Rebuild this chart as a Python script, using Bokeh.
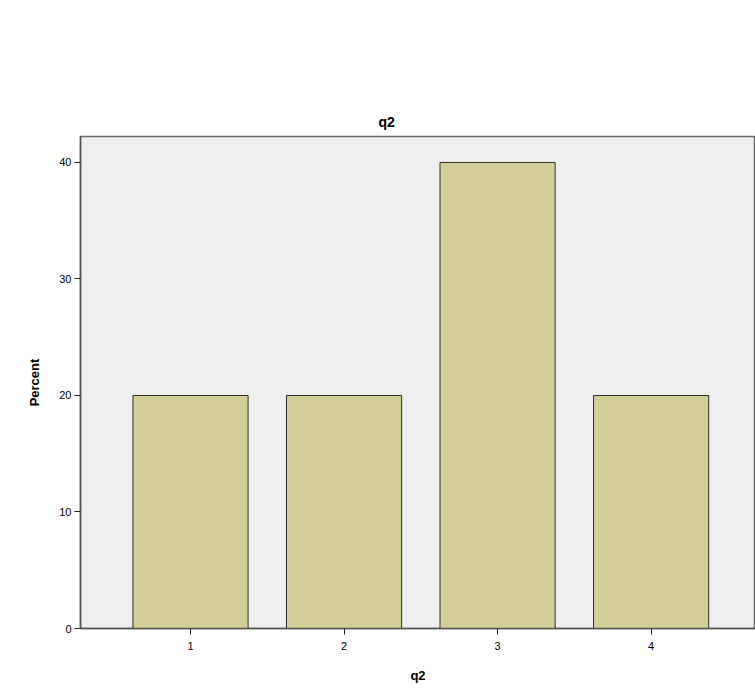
from bokeh.plotting import figure
from bokeh.embed import file_html
from bokeh.resources import INLINE
from bokeh.models import FixedTicker, Range1d, ColumnDataSource

categories = [1, 2, 3, 4]
percent = [20, 20, 40, 20]
y_ticks = [0, 10, 20, 30, 40]

src = ColumnDataSource(data=dict(x=categories, top=percent))

p = figure(width=755, height=696, output_backend="svg", toolbar_location=None,
           x_range=Range1d(0.2834, 4.68), y_range=Range1d(0, 42.23),
           min_border_left=80, min_border_right=0, min_border_top=136, min_border_bottom=68)

p.vbar(x="x", top="top", width=0.75, source=src, fill_color="#d3ce97",
       line_color="#2e2e2e", line_width=1)

p.title.text = "q2"
p.title.align = "left"
p.title.offset = 298
p.title.standoff = 13
p.title.text_font = "Liberation Sans"
p.title.text_font_size = "14px"
p.title.text_font_style = "bold"
p.title.text_color = "#000000"

p.background_fill_color = "#efefef"
p.border_fill_color = "#ffffff"
p.outline_line_color = "#6b6b6b"
p.outline_line_width = 1.5
p.xgrid.visible = False
p.ygrid.visible = False

p.yaxis.ticker = FixedTicker(ticks=y_ticks)
p.xaxis.ticker = FixedTicker(ticks=categories)
for ax in (p.xaxis[0], p.yaxis[0]):
    ax.axis_line_color = "#555555"
    ax.axis_line_width = 1.5
    ax.major_tick_line_color = "#222222"
    ax.major_tick_in = 0
    ax.major_tick_out = 6
    ax.minor_tick_line_color = None
    ax.major_label_text_font = "Liberation Sans"
    ax.major_label_text_font_size = "11px"
    ax.major_label_text_color = "#000000"
    ax.axis_label_text_font = "Liberation Sans"
    ax.axis_label_text_font_size = "13px"
    ax.axis_label_text_font_style = "bold"
    ax.axis_label_text_color = "#000000"

p.yaxis.axis_label = "Percent"
p.xaxis.axis_label = "q2"
p.yaxis.major_label_standoff = 3
p.xaxis.major_label_standoff = 7
p.yaxis.axis_label_standoff = 14
p.xaxis.axis_label_standoff = 15

open("out.html", "w").write(file_html(p, INLINE))
